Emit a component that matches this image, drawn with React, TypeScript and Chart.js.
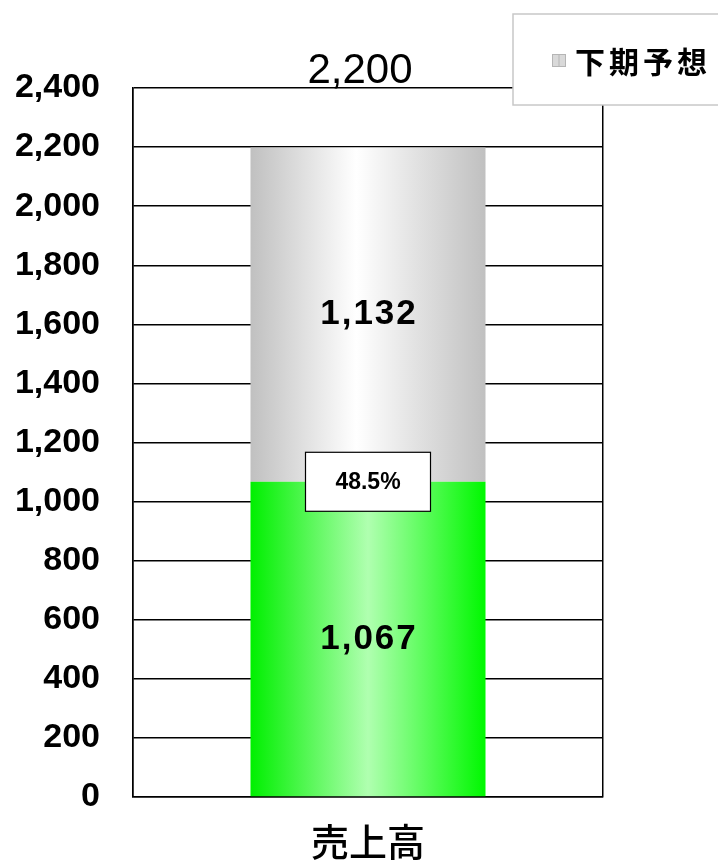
import React, { useEffect, useRef } from "react";
import { Chart, registerables } from "chart.js";

Chart.register(...registerables);

const categories = ["売上高"];
const firstHalfLabel = "上期実績";
const secondHalfLabel = "下期予想";
const firstHalfValues = [1067];
const secondHalfValues = [1132];
const totalValues = [2200];
const ratioLabels = ["48.5%"];
const yMin = 0;
const yMax = 2400;
const yStep = 200;

const fmt = (v: number) => v.toLocaleString("en-US");

function barGradient(ctx: any, stops: [number, string][]) {
  const chart = ctx.chart;
  const area = chart.chartArea;
  const xs = chart.scales.x;
  if (!area || !xs) return stops[0][1];
  const cx = xs.getPixelForValue(ctx.dataIndex);
  const w = (area.right - area.left) / categories.length * 0.5;
  const g = chart.ctx.createLinearGradient(cx - w / 2, 0, cx + w / 2, 0);
  stops.forEach(([o, c]) => g.addColorStop(o, c));
  return g;
}

const labelPlugin = {
  id: "labelPlugin",
  afterDatasetsDraw(chart: any) {
    const ctx = chart.ctx;
    const area = chart.chartArea;
    const m0 = chart.getDatasetMeta(0);
    const m1 = chart.getDatasetMeta(1);
    ctx.save();
    ctx.fillStyle = "#000";
    ctx.textAlign = "center";
    ctx.textBaseline = "middle";
    [m0, m1].forEach((meta: any, di: number) => {
      meta.data.forEach((el: any, i: number) => {
        const v = chart.data.datasets[di].data[i];
        ctx.font = "bold 35px 'Liberation Sans', Arial, sans-serif";
        (ctx as any).letterSpacing = "2px";
        ctx.fillText(fmt(v), el.x + 1, (el.y + el.base) / 2);
        (ctx as any).letterSpacing = "0px";
      });
    });
    // totals
    m1.data.forEach((el: any, i: number) => {
      ctx.font = "42px 'Liberation Sans', Arial, sans-serif";
      ctx.textBaseline = "alphabetic";
      ctx.fillText(fmt(totalValues[i]), el.x - 8, area.top - 5);
    });
    // ratio box
    m0.data.forEach((el: any, i: number) => {
      const bw = 125, bh = 59;
      const bx = el.x - bw / 2, by = el.y - bh / 2;
      ctx.fillStyle = "#fff";
      ctx.fillRect(bx, by, bw, bh);
      ctx.strokeStyle = "#000";
      ctx.lineWidth = 1.2;
      ctx.strokeRect(bx, by, bw, bh);
      ctx.fillStyle = "#000";
      ctx.font = "bold 23px 'Liberation Sans', Arial, sans-serif";
      ctx.textBaseline = "middle";
      ctx.fillText(ratioLabels[i], el.x, el.y + 1);
    });
    ctx.restore();
  },
  afterDraw(chart: any) {
    const ctx = chart.ctx;
    ctx.save();
    const bx = 513, by = 14, bw = 220, bh = 91;
    ctx.fillStyle = "#fff";
    ctx.fillRect(bx, by, bw, bh);
    ctx.strokeStyle = "#c8c8c8";
    ctx.lineWidth = 1.5;
    ctx.strokeRect(bx, by, bw, bh);
    // icon
    const ix = 552, iy = 54, iw = 14, ih = 13;
    ctx.fillStyle = "#d9d9d9";
    ctx.fillRect(ix, iy, iw, ih);
    ctx.strokeStyle = "#b5b5b5";
    ctx.lineWidth = 1;
    ctx.strokeRect(ix + 0.5, iy + 0.5, iw - 1, ih - 1);
    ctx.beginPath();
    ctx.moveTo(ix + iw / 2, iy + 1);
    ctx.lineTo(ix + iw / 2, iy + ih - 1);
    ctx.stroke();
    ctx.fillStyle = "#000";
    ctx.font = "bold 30px 'Noto Sans CJK JP', sans-serif";
    ctx.textAlign = "left";
    ctx.textBaseline = "middle";
    (ctx as any).letterSpacing = "4px";
    ctx.fillText(chart.data.datasets[1].label, 575, 62);
    ctx.restore();
  },
};

export default function App() {
  const ref = useRef<HTMLCanvasElement | null>(null);
  useEffect(() => {
    if (!ref.current) return;
    const chart = new Chart(ref.current, {
      type: "bar",
      data: {
        labels: categories,
        datasets: [
          {
            label: firstHalfLabel,
            data: firstHalfValues,
            backgroundColor: (c: any) =>
              barGradient(c, [
                [0, "#00f000"],
                [0.5, "#b0ffb0"],
                [1, "#00f800"],
              ]),
            borderWidth: 0,
          },
          {
            label: secondHalfLabel,
            data: secondHalfValues,
            backgroundColor: (c: any) =>
              barGradient(c, [
                [0, "#c0c0c0"],
                [0.45, "#ffffff"],
                [1, "#c0c0c0"],
              ]),
            borderWidth: 0,
          },
        ],
      },
      options: {
        animation: false,
        responsive: false,
        layout: { padding: { left: 0, right: 115, top: 88, bottom: 0 } },
        plugins: { legend: { display: false }, tooltip: { enabled: false } },
        datasets: { bar: { categoryPercentage: 1, barPercentage: 0.5 } },
        scales: {
          x: {
            stacked: true,
            grid: { display: true, offset: true, color: "#000", lineWidth: 1.5, drawTicks: false },
            border: { display: true, color: "#000", width: 1.5 },
            ticks: {
              color: "#000",
              padding: 22,
              font: { family: "'Noto Sans CJK JP', sans-serif", size: 38, weight: "500" },
            },
            afterFit: (s: any) => {
              s.height = 66;
            },
          },
          y: {
            stacked: true,
            min: yMin,
            max: yMax,
            grid: { color: "#000", lineWidth: 1.5, drawTicks: false },
            border: { display: true, color: "#000", width: 1.5 },
            ticks: {
              stepSize: yStep,
              color: "#000",
              padding: 33,
              font: { family: "'Liberation Sans', Arial, sans-serif", size: 34, weight: "bold" },
              callback: (v: any) => fmt(Number(v)),
            },
            afterFit: (s: any) => {
              s.width = 133;
            },
          },
        },
      },
      plugins: [labelPlugin],
    });
    return () => chart.destroy();
  }, []);
  return (
    <div style={{ position: "absolute", left: 0, top: 0, width: 718, height: 863, background: "#fff" }}>
      <canvas ref={ref} width={718} height={863} style={{ display: "block" }} />
    </div>
  );
}
